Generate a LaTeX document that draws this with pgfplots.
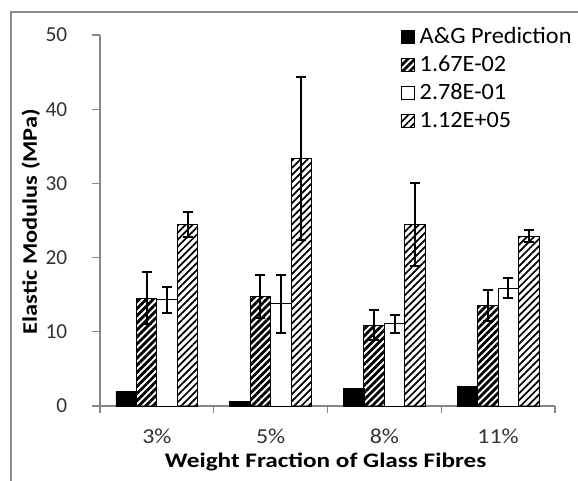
\documentclass[border=0pt]{standalone}
\usepackage{pgfplots}
\pgfplotsset{compat=1.18}
\usepackage{fontspec}
\setmainfont{Carlito}
\newfontfamily\xlabfont[FakeStretch=1.22]{Carlito}
\newfontfamily\ylabfont[FakeStretch=1.18]{Carlito}
\newfontfamily\xtickfont[FakeStretch=1.12]{Carlito}
\newfontfamily\legfont[FakeStretch=1.04]{Carlito}
\usetikzlibrary{patterns.meta}
\definecolor{axgray}{RGB}{134,134,134}
\definecolor{framegray}{RGB}{140,140,140}
\pgfplotsset{boxlegend/.style={legend image code/.code={\draw[##1,draw=black,line width=0.6pt] (0pt,-4.9pt) rectangle (9.75pt,4.9pt);}}}
\begin{document}
\begin{tikzpicture}
\useasboundingbox (0pt,0pt) rectangle (433.5pt,-360.75pt);
\draw[framegray, line width=1.5pt] (8.25pt,-361pt) -- (8.25pt,-9pt) -- (434pt,-9pt);
\begin{axis}[
  at={(75pt,-304.5pt)}, anchor=south west,
  scale only axis, width=341.25pt, height=278.25pt,
  ybar,
  xmin=-0.5, xmax=3.5, ymin=0, ymax=50,
  axis lines=left,
  axis line style={-, axgray, line width=0.9pt},
  xtick={0,1,2,3}, xticklabels={3\%,5\%,8\%,11\%},
  minor xtick={-0.5,0.5,1.5,2.5,3.5},
  ytick={0,10,...,50},
  tick align=outside,
  major tick length=6pt, minor tick length=5pt,
  major x tick style={draw=none},
  minor x tick style={axgray, line width=0.9pt},
  ytick style={axgray, line width=0.9pt},
  /pgf/number format/assume math mode=true,
  tick label style={font=\fontsize{16}{19}\selectfont, text=black!80},
  xticklabel style={font=\xtickfont\fontsize{16}{19}\selectfont, anchor=center, yshift=-17pt},
  yticklabel style={anchor=east, xshift=-15pt},
  ylabel={\ylabfont\bfseries Elastic Modulus (MPa)},
  xlabel={\xlabfont\bfseries Weight Fraction of Glass Fibres},
  label style={font=\fontsize{15.5}{19}\selectfont},
  ylabel style={at={(axis description cs:-0.152,0.497)}, anchor=center},
  xlabel style={at={(axis description cs:0.496,-0.152)}, anchor=center},
  bar width=15.4pt,
  error bars/error bar style={line width=1.5pt, black},
  error bars/error mark options={rotate=90, mark size=3.75pt, line width=1.5pt, black},
  legend style={at={(axis description cs:0.660,1.026)}, anchor=north west,
    draw=none, fill=none, inner sep=0pt, row sep=3.5pt,
    font=\legfont\fontsize{17.5}{21}\selectfont,
    nodes={inner sep=1pt, text height=12.5pt, text depth=3pt}},
  legend cell align=left,
]
\addplot[fill=black, draw=black, bar shift=-23.1pt, boxlegend]
  coordinates {(0,2.0) (1,0.6) (2,2.4) (3,2.6)};
\addplot[draw=black, line width=0.75pt, pattern={Lines[angle=45,distance=3.75pt,line width=2.1pt]}, bar shift=-7.7pt, boxlegend,
  error bars/.cd, y dir=both, y explicit]
  coordinates {(0,14.5) +- (0,3.5) (1,14.7) +- (0,2.9) (2,10.9) +- (0,2.0) (3,13.5) +- (0,2.1)};
\addplot[draw=black, line width=0.75pt, fill=white, bar shift=7.7pt, boxlegend,
  error bars/.cd, y dir=both, y explicit]
  coordinates {(0,14.3) +- (0,1.8) (1,13.8) +- (0,3.9) (2,11.1) +- (0,1.2) (3,15.9) +- (0,1.3)};
\addplot[draw=black, line width=0.75pt, pattern={Lines[angle=45,distance=3.75pt,line width=1.3pt]}, bar shift=23.1pt, boxlegend,
  error bars/.cd, y dir=both, y explicit]
  coordinates {(0,24.5) +- (0,1.7) (1,33.4) +- (0,11.0) (2,24.5) +- (0,5.6) (3,22.9) +- (0,0.85)};
\legend{\hspace{3pt}A\&G Prediction, \hspace{3pt}1.67E-02, \hspace{3pt}2.78E-01, \hspace{3pt}1.12E+05}
\end{axis}
\end{tikzpicture}
\end{document}
